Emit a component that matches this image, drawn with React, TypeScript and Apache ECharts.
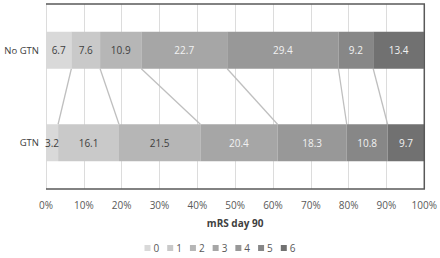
import React, { useEffect, useRef } from "react";
import * as echarts from "echarts";

const categories = ["No GTN", "GTN"];
const levels = ["0", "1", "2", "3", "4", "5", "6"];
const noGtn = [6.7, 7.6, 10.9, 22.7, 29.4, 9.2, 13.4];
const gtn = [3.2, 16.1, 21.5, 20.4, 18.3, 10.8, 9.7];
const colors = ["#d9d9d9", "#c9c9c9", "#b6b6b6", "#a6a6a6", "#989898", "#878787", "#717171"];
const labelColors = ["#404040", "#404040", "#404040", "#f2f2f2", "#f2f2f2", "#f2f2f2", "#f2f2f2"];
const xTicks = [0, 10, 20, 30, 40, 50, 60, 70, 80, 90, 100];

const FONT = "Open Sans";
const BAR = 37;

function cumulative(arr: number[]) {
  const out: number[] = [];
  let s = 0;
  for (let i = 0; i < arr.length - 1; i++) {
    s += arr[i];
    out.push(+s.toFixed(1));
  }
  return out;
}

export default function App() {
  const ref = useRef<HTMLDivElement>(null);
  useEffect(() => {
    if (!ref.current) return;
    const chart = echarts.init(ref.current, null, { renderer: "svg" });
    const cumA = cumulative(noGtn);
    const cumB = cumulative(gtn);
    const connectors = cumA.map((a, i) => [a, cumB[i]]);

    const barSeries: any[] = levels.map((lv, i) => ({
      name: lv,
      type: "bar",
      stack: "total",
      barWidth: BAR,
      data: [noGtn[i], gtn[i]],
      itemStyle: { color: colors[i] },
      label: {
        show: true,
        position: "inside",
        color: labelColors[i],
        fontFamily: FONT,
        fontSize: 10,
        formatter: (p: any) => p.value.toFixed(1),
      },
    }));

    const connSeries = {
      type: "custom",
      silent: true,
      z: 1,
      data: connectors,
      renderItem: (params: any, api: any) => {
        const p1 = api.coord([api.value(0), 0]);
        const p2 = api.coord([api.value(1), 1]);
        return {
          type: "line",
          shape: { x1: p1[0], y1: p1[1] + BAR / 2, x2: p2[0], y2: p2[1] - BAR / 2 },
          style: { stroke: "#bfbfbf", lineWidth: 1.3 },
        };
      },
    };

    const frameSeries = {
      type: "custom",
      silent: true,
      z: 5,
      data: [[0, 0]],
      renderItem: (params: any) => {
        const c = params.coordSys;
        return {
          type: "polyline",
          shape: {
            points: [
              [c.x, c.y],
              [c.x + c.width, c.y],
              [c.x + c.width, c.y + c.height],
              [c.x, c.y + c.height],
            ],
          },
          style: { stroke: "#595959", lineWidth: 1.5, fill: "none" },
        };
      },
    };

    chart.setOption({
      animation: false,
      textStyle: { fontFamily: FONT },
      grid: { left: 46, right: 13, top: 4, bottom: 69 },
      legend: {
        data: levels,
        bottom: 0,
        left: "center",
        itemWidth: 6,
        itemHeight: 6,
        itemGap: 8,
        icon: "rect",
        textStyle: { fontSize: 10, color: "#595959", fontFamily: FONT, padding: [0, 0, 0, -2] },
      },
      xAxis: {
        type: "value",
        min: xTicks[0],
        max: xTicks[xTicks.length - 1],
        interval: 10,
        axisLine: { show: false },
        axisTick: { show: false },
        splitLine: { show: true, lineStyle: { color: "#dcdcdc", width: 1 } },
        axisLabel: { formatter: "{value}%", color: "#595959", fontSize: 10, margin: 11, fontFamily: FONT },
        name: "mRS day 90",
        nameLocation: "middle",
        nameGap: 29,
        nameTextStyle: { fontWeight: "bold", fontSize: 10, color: "#404040", fontFamily: FONT },
      },
      yAxis: {
        type: "category",
        data: categories,
        inverse: true,
        axisLine: { show: false },
        axisTick: { show: false },
        splitLine: { show: false },
        axisLabel: { color: "#404040", fontSize: 9.5, margin: 7, fontFamily: FONT },
      },
      series: [...barSeries, connSeries, frameSeries],
    });
    return () => chart.dispose();
  }, []);
  return <div ref={ref} style={{ width: 440, height: 258, position: "absolute", left: 0, top: 0 }} />;
}
